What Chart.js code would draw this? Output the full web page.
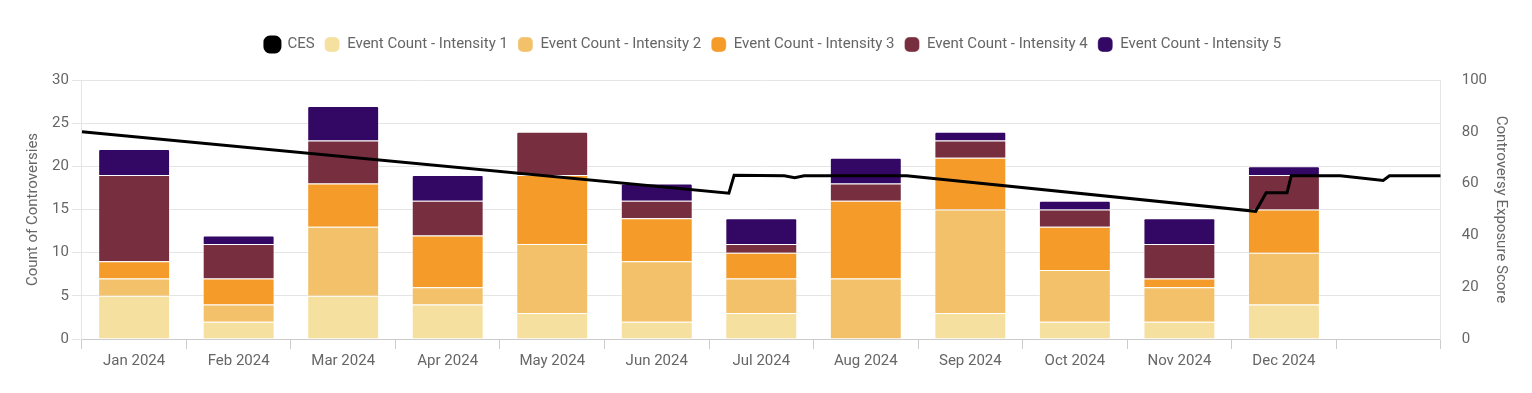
<!DOCTYPE html>
<html>
<head>
<meta charset="utf-8">
<script src="https://cdn.jsdelivr.net/npm/chart.js@4.4.1/dist/chart.umd.min.js"></script>
<style>
  html, body { margin: 0; padding: 0; background: #fff; }
  #wrap { width: 1532px; height: 393px; }
</style>
</head>
<body>
<div id="wrap"><canvas id="chart"></canvas></div>
<script>
// months (last slot is an empty one, as in the original axis)
const months = ['Jan 2024', 'Feb 2024', 'Mar 2024', 'Apr 2024', 'May 2024', 'Jun 2024',
                'Jul 2024', 'Aug 2024', 'Sep 2024', 'Oct 2024', 'Nov 2024', 'Dec 2024', ''];

const intensity1 = [5, 2, 5, 4, 3, 2, 3, 0, 3, 2, 2, 4];
const intensity2 = [2, 2, 8, 2, 8, 7, 4, 7, 12, 6, 4, 6];
const intensity3 = [2, 3, 5, 6, 8, 5, 3, 9, 6, 5, 1, 5];
const intensity4 = [10, 4, 5, 4, 5, 2, 1, 2, 2, 2, 4, 4];
const intensity5 = [3, 1, 4, 3, 0, 2, 3, 3, 1, 1, 3, 1];

// CES line: x is position in month slots (0 = start of Jan, 13 = end of axis)
const cesX = [0, 6.19, 6.24, 6.72, 6.82, 6.91, 7.89, 11.23, 11.33, 11.53, 11.57, 12.04, 12.45, 12.51, 13];
const cesY = [80, 56.3, 63.2, 63, 62.3, 63, 63, 49.3, 56.5, 56.5, 63, 63, 61.2, 63, 63];

const colors = ['#F5E09F', '#F3C169', '#F49B2A', '#772F40', '#330764'];

const textColor = '#666';
const gridColor = '#e5e5e5';
Chart.defaults.font.family = 'Roboto, "Noto Sans", sans-serif';
Chart.defaults.font.size = 15;
Chart.defaults.color = textColor;

function barSet(label, data, i)
{
  return {
    type: 'bar',
    label: label,
    data: data,
    backgroundColor: colors[i],
    borderColor: 'rgba(255,255,255,0.35)',
    borderWidth: 1,
    borderRadius: 2,
    grouped: false,
    barPercentage: 0.86,
    xAxisID: 'x',
    yAxisID: 'y',
    order: 1
  };
}

const cesPoints = cesX.map((x, i) => ({ x: x, y: cesY[i] }));

// extra room under the legend, and nudge it a bit to the right
const legendMargin = {
  id: 'legendMargin',
  beforeInit(chart) {
    const fit = chart.legend.fit;
    chart.legend.fit = function () {
      fit.bind(chart.legend)();
      this.height += 18;
    };
  },
  afterLayout(chart) {
    chart.legend.left += 6;
    chart.legend.right += 6;
  }
};

new Chart(document.getElementById('chart'), {
  type: 'bar',
  data: {
    labels: months,
    datasets: [
      {
        type: 'line',
        label: 'CES',
        data: cesPoints,
        borderColor: '#000',
        backgroundColor: '#000',
        borderWidth: 3,
        pointRadius: 0,
        tension: 0,
        fill: false,
        xAxisID: 'x2',
        yAxisID: 'y1',
        order: 0
      },
      barSet('Event Count - Intensity 1', intensity1, 0),
      barSet('Event Count - Intensity 2', intensity2, 1),
      barSet('Event Count - Intensity 3', intensity3, 2),
      barSet('Event Count - Intensity 4', intensity4, 3),
      barSet('Event Count - Intensity 5', intensity5, 4)
    ]
  },
  plugins: [legendMargin],
  options: {
    responsive: true,
    maintainAspectRatio: false,
    animation: false,
    layout: { padding: { top: 27, bottom: 20, left: 20, right: 18 } },
    plugins: {
      legend: {
        position: 'top',
        labels: {
          boxWidth: 15,
          boxHeight: 15,
          useBorderRadius: true,
          borderRadius: 5,
          padding: 10,
          color: textColor
        }
      },
      tooltip: { enabled: false }
    },
    scales: {
      x: {
        stacked: true,
        offset: true,
        grid: { offset: true, drawOnChartArea: false, tickLength: 10, color: '#ccc' },
        border: { color: '#ccc' },
        ticks: { color: textColor, maxRotation: 0, autoSkip: false }
      },
      x2: {
        type: 'linear',
        display: false,
        offset: false,
        min: 0,
        max: 13
      },
      y: {
        stacked: true,
        position: 'left',
        min: 0,
        max: 30,
        ticks: { stepSize: 5, color: textColor },
        grid: { color: gridColor, tickLength: 10 },
        border: { color: gridColor },
        title: { display: true, text: 'Count of Controversies', color: textColor },
        afterFit(scale) { scale.width += 3; }
      },
      y1: {
        position: 'right',
        min: 0,
        max: 100,
        ticks: { stepSize: 20, color: textColor, padding: 21 },
        grid: { drawOnChartArea: false, drawTicks: false },
        border: { color: gridColor },
        title: { display: true, text: 'Controversy Exposure Score', color: textColor },
        afterFit(scale) { scale.width -= 20; }
      }
    }
  }
});
</script>
</body>
</html>
